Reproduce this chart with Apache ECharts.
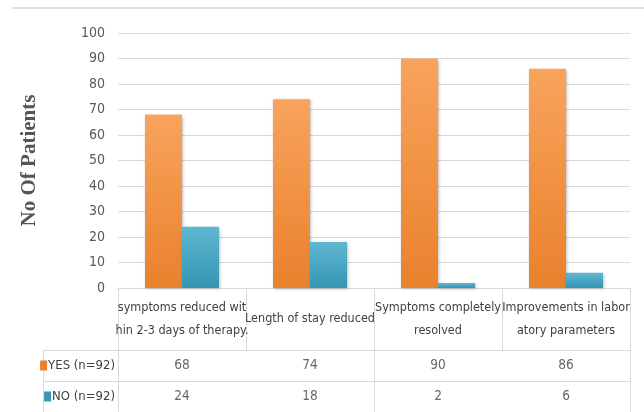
<!DOCTYPE html>
<html>
<head>
<meta charset="utf-8">
<script src="https://cdn.jsdelivr.net/npm/echarts@6/dist/echarts.min.js"></script>
<style>
  html, body { margin: 0; padding: 0; background: #fff; }
  #main { width: 644px; height: 412px; }
</style>
</head>
<body>
<div id="main"></div>
<script>
// values (same as the data table under the chart)
const categories = [
  'symptoms reduced wit\nhin 2-3 days of therapy.',
  'Length of stay reduced',
  'Symptoms completely\nresolved',
  'Improvements in labor\natory parameters'
]
const seriesNames = ['YES (n=92)', 'NO (n=92)']
const yesValues = [68, 74, 90, 86]
const noValues = [24, 18, 2, 6]
const yTicks = [0, 10, 20, 30, 40, 50, 60, 70, 80, 90, 100]

const FONT = '"Liberation Sans Narrow", "DejaVu Sans Condensed", "Open Sans", sans-serif'
const LINE = '#d9d9d9'
const TEXT = '#404040'
const colors = {
  yes: ['#f9a35c', '#e8812d'],
  no: ['#5fb7d0', '#3496b4']
}

function grad (c) {
  return new echarts.graphic.LinearGradient(0, 0, 0, 1, [
    { offset: 0, color: c[0] },
    { offset: 1, color: c[1] }
  ])
}

const chart = echarts.init(document.getElementById('main'))

// value cells of the table: [column, row, value]
const cellData = []
yesValues.forEach((v, i) => cellData.push([i, 0, v]))
noValues.forEach((v, i) => cellData.push([i, 1, v]))

const option = {
  animation: false,
  backgroundColor: '#fff',
  textStyle: { fontFamily: FONT },
  graphic: [
    // thin rule at the top of the figure
    { type: 'rect', shape: { x: 12, y: 7, width: 632, height: 2 }, style: { fill: '#dedede' } }
  ],
  grid: [
    { left: 118, right: 14, top: 33, height: 255 },   // bars
    { left: 118, right: 14, top: 288, height: 62 },   // table header
    { left: 118, right: 14, top: 350, height: 68 }    // table rows
  ],
  xAxis: [
    {
      gridIndex: 0,
      type: 'category',
      data: categories,
      axisLine: { lineStyle: { color: LINE } },
      axisTick: { show: false },
      axisLabel: { show: false }
    },
    {
      gridIndex: 1,
      type: 'category',
      data: categories,
      axisLine: { lineStyle: { color: LINE } },
      axisTick: { show: false },
      splitLine: { show: true, lineStyle: { color: LINE } },
      axisLabel: {
        margin: -31,
        verticalAlign: 'middle',
        interval: 0,
        color: TEXT,
        fontSize: 12.5,
        lineHeight: 23,
        fontFamily: FONT
      }
    },
    {
      gridIndex: 2,
      type: 'category',
      data: categories,
      axisLine: { show: false },
      axisTick: { show: false },
      axisLabel: { show: false },
      splitLine: { show: true, lineStyle: { color: LINE } }
    }
  ],
  yAxis: [
    {
      gridIndex: 0,
      type: 'value',
      min: 0,
      max: 100,
      interval: 10,
      name: 'No Of Patients',
      nameLocation: 'middle',
      nameGap: 78,
      nameTextStyle: {
        fontFamily: '"Liberation Serif", "DejaVu Serif", serif',
        fontWeight: 'bold',
        fontSize: 21,
        color: '#555'
      },
      axisLine: { show: false },
      axisTick: { show: false },
      axisLabel: {
        margin: 13,
        color: '#595959',
        fontSize: 14,
        fontFamily: FONT,
        formatter: v => (yTicks.includes(v) ? String(v) : '')
      },
      splitLine: { lineStyle: { color: LINE } }
    },
    {
      gridIndex: 1,
      type: 'category',
      data: [''],
      axisLine: { show: false },
      axisTick: { show: false },
      axisLabel: { show: false }
    },
    {
      gridIndex: 2,
      type: 'category',
      inverse: true,
      data: seriesNames,
      axisLine: { show: true, lineStyle: { color: LINE } },
      axisTick: { show: true, length: 75, lineStyle: { color: LINE } },
      splitLine: { show: true, lineStyle: { color: LINE } },
      axisLabel: {
        margin: 3,
        color: TEXT,
        fontSize: 13,
        fontFamily: FONT,
        formatter: (v, i) => `{k${i}|}{t|${v}}`,
        rich: {
          k0: { width: 7, height: 10, backgroundColor: colors.yes[1] },
          k1: { width: 7, height: 10, backgroundColor: colors.no[1] },
          t: { color: TEXT, fontSize: 13, fontFamily: FONT, padding: [0, 0, 0, 1] }
        }
      }
    },
    {
      // left border of the row-label column
      gridIndex: 2,
      type: 'category',
      inverse: true,
      data: seriesNames,
      position: 'left',
      offset: 75,
      axisLine: { show: true, lineStyle: { color: LINE } },
      axisTick: { show: false },
      axisLabel: { show: false }
    }
  ],
  series: [
    {
      name: seriesNames[0],
      type: 'bar',
      xAxisIndex: 0,
      yAxisIndex: 0,
      data: yesValues,
      barWidth: 37,
      barGap: '0%',
      itemStyle: {
        color: grad(colors.yes),
        shadowColor: 'rgba(0,0,0,0.25)',
        shadowBlur: 3,
        shadowOffsetX: 1,
        shadowOffsetY: 1
      }
    },
    {
      name: seriesNames[1],
      type: 'bar',
      xAxisIndex: 0,
      yAxisIndex: 0,
      data: noValues,
      barWidth: 37,
      barGap: '0%',
      itemStyle: {
        color: grad(colors.no),
        shadowColor: 'rgba(0,0,0,0.25)',
        shadowBlur: 3,
        shadowOffsetX: 1,
        shadowOffsetY: 1
      }
    },
    {
      // numbers in the data table
      type: 'scatter',
      xAxisIndex: 2,
      yAxisIndex: 2,
      symbolSize: 1,
      itemStyle: { color: 'rgba(0,0,0,0)' },
      silent: true,
      data: cellData,
      label: {
        show: true,
        position: 'inside',
        formatter: p => String(p.value[2]),
        color: TEXT,
        fontSize: 13.5,
        fontFamily: FONT
      }
    }
  ]
}

chart.setOption(option)
</script>
</body>
</html>
